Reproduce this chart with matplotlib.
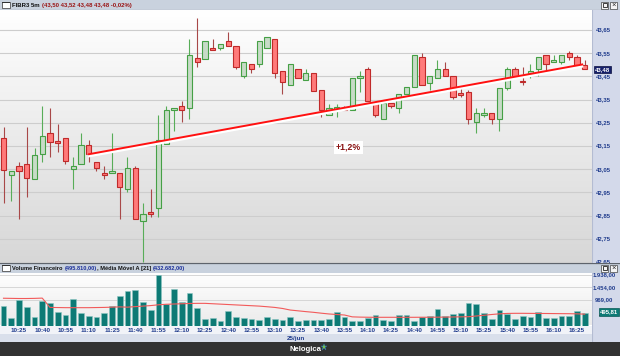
import matplotlib
matplotlib.use('Agg')
import matplotlib.pyplot as plt
import matplotlib.patheffects as pe
import numpy as np
from matplotlib.colors import LinearSegmentedColormap
from matplotlib.patches import Rectangle

plt.rcParams['font.family'] = ['Liberation Sans', 'DejaVu Sans']

# 5 minute candles, FIBR3, 25/jun 10:15 .. 16:30
opens = [43.183, 43.025, 43.062, 43.071, 43.006, 43.114, 43.205, 43.166, 43.183, 43.052,
         43.074, 43.153, 43.083, 43.034, 43.035, 43.034, 42.965, 43.054, 42.825, 42.862,
         42.884, 43.157, 43.304, 43.321, 43.315, 43.531, 43.524, 43.571, 43.572, 43.601,
         43.581, 43.453, 43.502, 43.503, 43.572, 43.610, 43.473, 43.413, 43.480, 43.433,
         43.463, 43.391, 43.285, 43.310, 43.315, 43.305, 43.442, 43.480, 43.334, 43.265,
         43.334, 43.312, 43.373, 43.403, 43.532, 43.423, 43.443, 43.482, 43.452, 43.373,
         43.384, 43.255, 43.285, 43.291, 43.265, 43.401, 43.480, 43.432, 43.460, 43.482,
         43.542, 43.512, 43.512, 43.552, 43.532, 43.500]
highs = [43.233, 43.042, 43.083, 43.233, 43.143, 43.321, 43.312, 43.245, 43.183, 43.103,
         43.205, 43.176, 43.083, 43.064, 43.205, 43.034, 43.104, 43.064, 42.906, 42.965,
         43.284, 43.322, 43.312, 43.345, 43.610, 43.700, 43.601, 43.611, 43.591, 43.641,
         43.581, 43.512, 43.502, 43.601, 43.620, 43.610, 43.473, 43.502, 43.480, 43.480,
         43.463, 43.391, 43.331, 43.331, 43.322, 43.442, 43.473, 43.492, 43.334, 43.334,
         43.334, 43.373, 43.403, 43.542, 43.552, 43.452, 43.521, 43.513, 43.452, 43.403,
         43.391, 43.312, 43.312, 43.291, 43.401, 43.489, 43.489, 43.489, 43.502, 43.532,
         43.542, 43.542, 43.542, 43.561, 43.542, 43.520]
lows = [42.903, 42.913, 42.834, 42.932, 43.006, 43.083, 43.104, 43.123, 43.072, 42.965,
        43.074, 43.083, 43.044, 43.006, 43.035, 42.834, 42.953, 42.834, 42.651, 42.844,
        42.844, 43.157, 43.216, 43.255, 43.265, 43.492, 43.524, 43.562, 43.562, 43.582,
        43.483, 43.443, 43.463, 43.492, 43.572, 43.443, 43.373, 43.413, 43.443, 43.433,
        43.386, 43.274, 43.285, 43.274, 43.305, 43.305, 43.384, 43.344, 43.276, 43.265,
        43.312, 43.294, 43.373, 43.403, 43.413, 43.393, 43.443, 43.453, 43.353, 43.363,
        43.245, 43.205, 43.274, 43.245, 43.216, 43.391, 43.442, 43.413, 43.442, 43.453,
        43.472, 43.512, 43.502, 43.521, 43.496, 43.480]
closes = [43.045, 43.042, 43.044, 43.014, 43.113, 43.193, 43.166, 43.164, 43.084, 43.062,
          43.153, 43.114, 43.054, 43.025, 43.042, 42.975, 43.054, 42.834, 42.859, 42.858,
          43.176, 43.305, 43.312, 43.304, 43.542, 43.513, 43.601, 43.562, 43.591, 43.582,
          43.492, 43.512, 43.483, 43.601, 43.620, 43.463, 43.424, 43.502, 43.443, 43.463,
          43.386, 43.305, 43.312, 43.310, 43.305, 43.442, 43.452, 43.344, 43.285, 43.334,
          43.324, 43.373, 43.403, 43.542, 43.413, 43.452, 43.482, 43.453, 43.363, 43.371,
          43.265, 43.294, 43.291, 43.265, 43.401, 43.480, 43.449, 43.424, 43.472, 43.532,
          43.503, 43.521, 43.542, 43.532, 43.496, 43.480]

# volume financeiro (thousands) and its 21 period moving average
volume = [744, 286, 973, 717, 324, 946, 847, 526, 400, 1011,
          465, 362, 324, 488, 744, 1137, 1328, 1354, 885, 603,
          1915, 832, 1392, 908, 1240, 656, 236, 275, 183, 542,
          336, 298, 248, 210, 313, 236, 221, 313, 172, 221,
          210, 210, 248, 503, 324, 172, 160, 286, 400, 221,
          172, 400, 400, 172, 336, 362, 618, 362, 439, 488,
          858, 832, 488, 259, 591, 450, 259, 374, 336, 526,
          286, 286, 362, 362, 553, 495.81]
vol_ma = [1040, 1035, 1030, 1030, 1035, 1045,
          690, 685, 680, 680, 680, 680, 685, 690,
          700, 710, 700, 720, 740, 760,
          790, 810, 820, 830, 840, 845, 845,
          830, 815, 800, 785, 770, 755, 740,
          716, 690, 650, 590, 560, 530, 503,
          470, 440, 420, 400,
          330, 320, 315, 313, 313, 313, 313, 313, 313, 315, 315, 318, 320,
          325, 330, 336, 362, 390, 420, 445, 460, 465,
          465, 462, 460, 458, 455, 452, 450, 445, 432.68]

time_labels = ['10:25', '10:40', '10:55', '11:10', '11:25', '11:40', '11:55', '12:10', '12:25',
               '12:40', '12:55', '13:10', '13:25', '13:40', '13:55', '14:10', '14:25', '14:40',
               '14:55', '15:10', '15:25', '15:40', '15:55', '16:10', '16:25']
price_ticks = [42.65, 42.75, 42.85, 42.95, 43.05, 43.15, 43.25, 43.35, 43.45, 43.55, 43.65]
price_labels = ['42,65', '42,75', '42,85', '42,95', '43,05', '43,15', '43,25', '43,35', '43,45', '43,55', '43,65']
vol_ticks = [969, 1454, 1938]
vol_labels = ['969,00', '1.454,00', '1.938,00']
last_price = 43.48
last_vol = 495.81

trend_x = [10.9, 74.8]
trend_y = [43.114, 43.502]
trend_label = '+1,2%'

W, H = 620, 356
XLIM = (-0.452, 75.94)
PLIM = (42.646, 43.736)
VLIM = (0, 2003)
NAVY = '#1f3b8c'


def box(x0, y0, x1, y1):
    return [x0 / W, 1 - y1 / H, (x1 - x0) / W, (y1 - y0) / H]


def bare(ax):
    ax.set_xticks([])
    ax.set_yticks([])
    for s in ax.spines.values():
        s.set_visible(False)


def pix_axes(fig, x0, y0, x1, y1, color):
    ax = fig.add_axes(box(x0, y0, x1, y1), facecolor=color)
    ax.set_xlim(x0, x1)
    ax.set_ylim(y1, y0)
    bare(ax)
    return ax


def window_icons(ax, ymid):
    for xs in (601, 610):
        ax.add_patch(Rectangle((xs, ymid - 3.5), 7, 7, facecolor='#f4f4f4', edgecolor='#444444', lw=0.5))
    ax.add_patch(Rectangle((602.5, ymid - 2), 4, 4, facecolor='none', edgecolor='#222222', lw=0.6))
    ax.text(613.5, ymid + 0.3, '×', fontsize=5.5, ha='center', va='center', color='#222222')


fig = plt.figure(figsize=(W / 100, H / 100), dpi=100)
fig.patch.set_facecolor('#d3d9ea')

# right side strip
side = pix_axes(fig, 592, 10, 620, 342, '#d3d9ea')
side.axvline(592.3, color='#b4bcd2', lw=0.8)

# top title bar
t1 = pix_axes(fig, 0, 0, 620, 10, '#c9d2de')
t1.axhline(9.6, color='#6f7680', lw=0.8)
t1.add_patch(Rectangle((2, 2), 8, 6, facecolor='white', edgecolor='#333333', lw=0.5))
t1.add_patch(Rectangle((2, 2), 8, 1.3, facecolor='#333333', edgecolor='none'))
a = t1.text(12, 5.2, 'FIBR3 5m', fontsize=4.3, fontweight='bold', color='#111111', va='center')
t1.annotate('(43,50 43,52 43,48 43,48 -0,02%)', xy=(1, 0), xycoords=a, xytext=(1.5, 0),
            textcoords='offset points', fontsize=4.3, fontweight='bold', color='#9a1515', va='bottom')
window_icons(t1, 5)

# price panel
ax = fig.add_axes(box(0, 10, 592, 263))
grad = np.linspace(0, 1, 256).reshape(-1, 1)
ax.imshow(grad, cmap=LinearSegmentedColormap.from_list('p', ['#ffffff', '#d7d7d7']), aspect='auto',
          extent=(XLIM[0], XLIM[1], PLIM[0], PLIM[1]), origin='upper', zorder=0)
ax.set_xlim(XLIM)
ax.set_ylim(PLIM)
bare(ax)
for t in price_ticks:
    ax.axhline(t, color='#cdcdcd', lw=0.8, zorder=1)

x = np.arange(len(opens))
o = np.array(opens)
h = np.array(highs)
l = np.array(lows)
c = np.array(closes)
up = c >= o
dn = ~up
ax.vlines(x[up], l[up], h[up], color='#58ad58', lw=0.8, zorder=2)
ax.vlines(x[dn], l[dn], h[dn], color='#a84848', lw=0.8, zorder=2)
ax.bar(x[up], np.maximum(c - o, 0.006)[up], bottom=o[up], width=0.7,
       color='#c7dbc7', edgecolor='#45a045', lw=0.8, zorder=3)
ax.bar(x[dn], np.maximum(o - c, 0.006)[dn], bottom=c[dn], width=0.7,
       color='#ff7a7a', edgecolor='#c02a2a', lw=0.8, zorder=3)

ax.plot(trend_x, trend_y, color='#ff1010', lw=1.4, zorder=4, solid_capstyle='butt',
        path_effects=[pe.Stroke(linewidth=2.6, foreground='white', offset=(0, -1)), pe.Normal()])
ax.text(44.5, 43.144, trend_label, fontsize=6.3, fontweight='bold', color='#8a1212',
        ha='center', va='center', zorder=5,
        bbox=dict(boxstyle='square,pad=0.25', facecolor='white', edgecolor='none'))

# price scale
pl = fig.add_axes(box(592, 10, 620, 263), facecolor='none')
pl.set_xlim(0, 1)
pl.set_ylim(PLIM)
bare(pl)
for t, s in zip(price_ticks, price_labels):
    pl.text(0.4, t, s, fontsize=4.3, fontweight='bold', color=NAVY, ha='center', va='center')
pl.text(0.37, last_price, '43,48', fontsize=4.3, fontweight='bold', color='white', ha='center',
        va='center', zorder=5,
        bbox=dict(boxstyle='square,pad=0.2', facecolor='#16206a', edgecolor='#0b1040', lw=0.5))

# volume title bar
t2 = pix_axes(fig, 0, 263, 620, 273, '#c9d2de')
t2.axhline(263.4, color='#5e646c', lw=0.9)
t2.add_patch(Rectangle((2, 265), 8, 6, facecolor='white', edgecolor='#333333', lw=0.5))
t2.add_patch(Rectangle((2, 265), 8, 1.3, facecolor='#333333', edgecolor='none'))
b = t2.text(12, 268.4, 'Volume Financeiro', fontsize=4.1, fontweight='bold', color='#111111', va='center')
b = t2.annotate('(495.810,00)', xy=(1, 0), xycoords=b, xytext=(1.3, 0), textcoords='offset points',
                fontsize=4.1, fontweight='bold', color='#1b2f9a', va='bottom')
b = t2.annotate(', Média Móvel A [21]', xy=(1, 0), xycoords=b, xytext=(0, 0), textcoords='offset points',
                fontsize=4.1, fontweight='bold', color='#111111', va='bottom')
t2.annotate('(432.682,00)', xy=(1, 0), xycoords=b, xytext=(1.3, 0), textcoords='offset points',
            fontsize=4.1, fontweight='bold', color='#1b2f9a', va='bottom')
window_icons(t2, 268)

# time label strip and date bar
pix_axes(fig, 0, 325.5, 592, 334, '#f1f3f8')
db = pix_axes(fig, 0, 334, 592, 342, '#d9dfeb')
db.text(296, 338.3, '25/jun', fontsize=4.5, fontweight='bold', color=NAVY, ha='center', va='center')

# volume panel
av = fig.add_axes(box(0, 273, 592, 325.5))
av.imshow(grad, cmap=LinearSegmentedColormap.from_list('v', ['#ffffff', '#ebebeb']), aspect='auto',
          extent=(XLIM[0], XLIM[1], VLIM[0], VLIM[1]), origin='upper', zorder=0)
av.set_xlim(XLIM)
av.set_ylim(VLIM)
for s in av.spines.values():
    s.set_visible(False)
av.set_yticks([])
for t in vol_ticks:
    av.axhline(t, color='#d6d6d6', lw=0.7, zorder=1)
av.bar(x, volume, width=0.72, color='#0d7a75', edgecolor='#8cc6c2', lw=0.4, zorder=2)
av.plot(x, vol_ma, color='#f25a5a', lw=0.8, zorder=3)
av.set_xticks(np.arange(2, 76, 3))
av.set_xticklabels(time_labels, fontsize=4.5, fontweight='bold', color=NAVY)
av.tick_params(axis='x', length=0, pad=1.6)

vl = fig.add_axes(box(592, 273, 620, 325.5), facecolor='none')
vl.set_xlim(0, 1)
vl.set_ylim(VLIM)
bare(vl)
for t, s in zip(vol_ticks, vol_labels):
    vl.text(0.42, t, s, fontsize=4.2, fontweight='bold', color=NAVY, ha='center', va='center')
vl.add_patch(Rectangle((0.25, last_vol - 150), 0.72, 50, facecolor='#d02020', edgecolor='none'))
vl.text(0.6, last_vol + 20, '495,81', fontsize=4.2, fontweight='bold', color='white', ha='center',
        va='center', bbox=dict(boxstyle='square,pad=0.2', facecolor='#0d7a75', edgecolor='#0a5a56', lw=0.5))

# footer
ft = pix_axes(fig, 0, 342, 620, 356, '#323232')
ft.text(306, 349.6, 'Nelogica', fontsize=5.6, fontweight='bold', color='white', ha='center', va='center')
ft.plot([323.5], [346.5], marker='*', color='#7cc843', markersize=4.5, mec='#2b78c8', mew=0.3)

fig.savefig('out.png', dpi=100)
